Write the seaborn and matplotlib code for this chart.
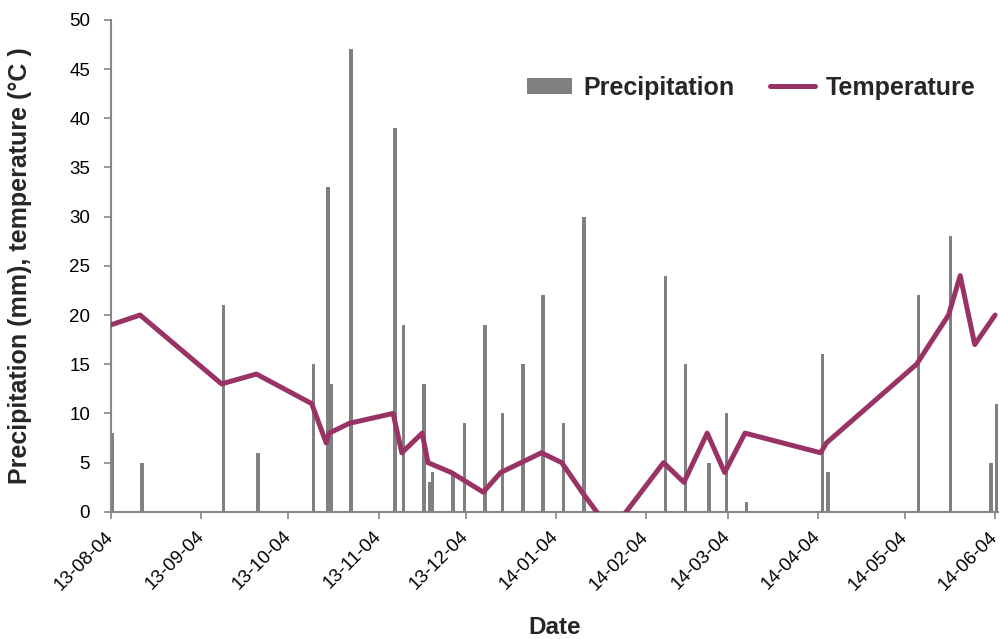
"""
Precipitacion diaria (barras) y temperatura (linea), ago-2013 a jun-2014.
Salida: out.png (1000x639 px)
"""

import matplotlib
matplotlib.use("Agg")  # sin ventana
import matplotlib.pyplot as plt
import matplotlib.dates as mdates
from matplotlib.lines import Line2D
from matplotlib.patches import Patch
import pandas as pd
import seaborn as sns

# ------------------------------------------------------------
# Datos
# ------------------------------------------------------------
precip_fechas = [
    "2013-08-04", "2013-08-14", "2013-09-11", "2013-09-23", "2013-10-12",
    "2013-10-17", "2013-10-18", "2013-10-25", "2013-11-09", "2013-11-12",
    "2013-11-19", "2013-11-21", "2013-11-22", "2013-11-29", "2013-12-03",
    "2013-12-10", "2013-12-16", "2013-12-23", "2013-12-30", "2014-01-06",
    "2014-01-13", "2014-02-10", "2014-02-17", "2014-02-25", "2014-03-03",
    "2014-03-10", "2014-04-05", "2014-04-07", "2014-05-08", "2014-05-19",
    "2014-06-02", "2014-06-04",
]
precip_mm = [
    8, 5, 21, 6, 15,
    33, 13, 47, 39, 19,
    13, 3, 4, 4, 9,
    19, 10, 15, 22, 9,
    30, 24, 15, 5, 10,
    1, 16, 4, 22, 28,
    5, 11,
]

temp_fechas = [
    "2013-08-04", "2013-08-14", "2013-09-11", "2013-09-23", "2013-10-12",
    "2013-10-17", "2013-10-18", "2013-10-25", "2013-11-09", "2013-11-12",
    "2013-11-19", "2013-11-21", "2013-11-29", "2013-12-10", "2013-12-16",
    "2013-12-30", "2014-01-06", "2014-01-13", "2014-01-23", "2014-02-10",
    "2014-02-17", "2014-02-25", "2014-03-03", "2014-03-10", "2014-04-05",
    "2014-04-07", "2014-05-08", "2014-05-19", "2014-05-23", "2014-05-28",
    "2014-06-04",
]
temp_c = [
    19, 20, 13, 14, 11,
    7, 8, 9, 10, 6,
    8, 5, 4, 2, 4,
    6, 5, 2, -2, 5,
    3, 8, 4, 8, 6,
    7, 15, 20, 24, 17,
    20,
]

GRIS = "#808080"
EJE = "#868686"
CIRUELA = "#993366"

# ------------------------------------------------------------
# Estilo
# ------------------------------------------------------------
sns.set_theme(style="white")
plt.rcParams["font.family"] = ["Liberation Sans", "DejaVu Sans"]

df_p = pd.DataFrame({"fecha": pd.to_datetime(precip_fechas), "mm": precip_mm})
df_t = pd.DataFrame({"fecha": pd.to_datetime(temp_fechas), "temp": temp_c})

fig = plt.figure(figsize=(10, 6.39), dpi=100)
ax = fig.add_axes([0.111, 0.199, 0.887, 0.770])

# barras de precipitacion (algo mas de 1 dia de ancho)
ax.bar(df_p["fecha"], df_p["mm"], width=1.2, align="edge", color=GRIS,
       linewidth=0, zorder=2)
# linea de temperatura
sns.lineplot(data=df_t, x="fecha", y="temp", color=CIRUELA, linewidth=3.6,
             ax=ax, zorder=3)

ax.set_xlim(pd.Timestamp("2013-08-04"), pd.Timestamp("2014-06-05"))
ax.set_ylim(0, 50)
ax.set_yticks(range(0, 51, 5))
ax.xaxis.set_major_locator(mdates.MonthLocator(bymonthday=4))
ax.xaxis.set_major_formatter(mdates.DateFormatter("%y-%m-%d"))

for lado in ["top", "right"]:
    ax.spines[lado].set_visible(False)
for lado in ["left", "bottom"]:
    ax.spines[lado].set_color(EJE)
    ax.spines[lado].set_linewidth(1.5)

ax.tick_params(axis="both", which="major", bottom=True, left=True,
               direction="out", length=5, width=1.2, color=EJE,
               labelsize=13.5, labelcolor="black")
ax.tick_params(axis="y", pad=10)
ax.tick_params(axis="x", pad=11)
for lbl in ax.get_xticklabels():
    lbl.set_rotation(45)
    lbl.set_ha("right")
    lbl.set_va("center")
    lbl.set_rotation_mode("anchor")

ax.set_xlabel("Date", fontsize=17.5, fontweight="bold")
ax.set_ylabel("Precipitation (mm), temperature (°C )", fontsize=18,
              fontweight="bold")
ax.xaxis.set_label_coords(0.5, -0.212)
ax.yaxis.set_label_coords(-0.089, 0.5)

handles = [
    Patch(facecolor=GRIS, edgecolor="none"),
    Line2D([0], [0], color=CIRUELA, linewidth=3.6, solid_capstyle="round"),
]
ax.legend(handles, ["Precipitation", "Temperature"], ncol=2, frameon=False,
          loc="center right", bbox_to_anchor=(0.986, 0.862),
          prop={"size": 18, "weight": "bold"}, handlelength=1.8,
          handleheight=0.6, handletextpad=0.45, columnspacing=1.4,
          borderaxespad=0.0)

fig.savefig("out.png", dpi=100)
plt.close(fig)
